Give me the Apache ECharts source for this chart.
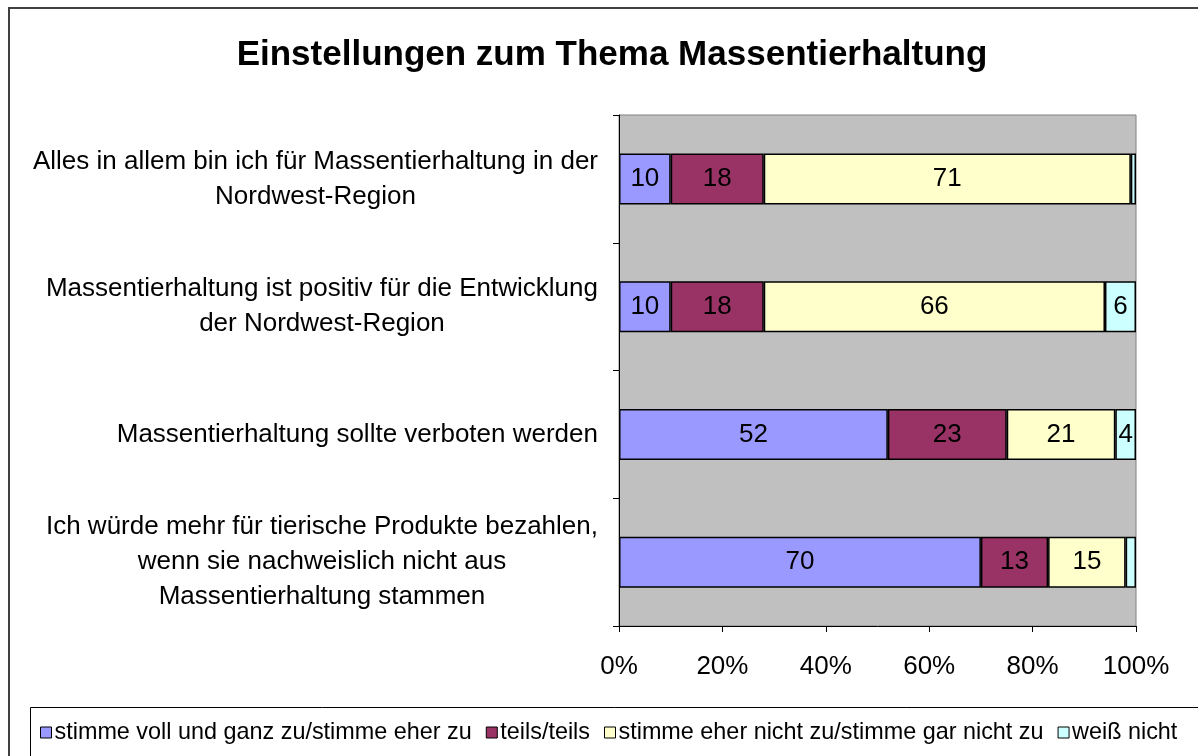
<!DOCTYPE html>
<html>
<head>
<meta charset="utf-8">
<script src="https://cdn.jsdelivr.net/npm/echarts@6/dist/echarts.min.js"></script>
<style>
html, body { margin: 0; padding: 0; background: #fff; }
#chart { width: 1198px; height: 756px; }
</style>
</head>
<body>
<div id="chart"></div>
<script>
var categories = [
    'Alles in allem bin ich für Massentierhaltung in der\nNordwest-Region',
    'Massentierhaltung ist positiv für die Entwicklung\nder Nordwest-Region',
    'Massentierhaltung sollte verboten werden',
    'Ich würde mehr für tierische Produkte bezahlen,\nwenn sie nachweislich nicht aus\nMassentierhaltung stammen'
];
var seriesNames = [
    'stimme voll und ganz zu/stimme eher zu',
    'teils/teils',
    'stimme eher nicht zu/stimme gar nicht zu',
    'weiß nicht'
];
var zustimmung = [10, 10, 52, 70];
var teils = [18, 18, 23, 13];
var ablehnung = [71, 66, 21, 15];
var weissNicht = [1, 6, 4, 2];
var colors = ['#9999FF', '#993366', '#FFFFCC', '#CCFFFF'];

var FONT = '"Liberation Sans", Arial, sans-serif';

var makeSeries = function(name, data, color)
{
    return {
        name: name,
        type: 'bar',
        stack: 'Total',
        barWidth: 51,
        data: data,
        itemStyle: {
            color: color,
            borderColor: '#000',
            borderWidth: 1.5
        },
        label: {
            show: true,
            position: 'inside',
            color: '#000',
            fontSize: 26,
            fontFamily: FONT,
            formatter: function(p) {
                return p.value >= 3 ? p.value : '';
            }
        }
    };
};

var myChart = echarts.init(document.getElementById('chart'), null, {
    renderer: 'canvas'
});

var option = {
    animation: false,
    backgroundColor: '#fff',
    textStyle: { fontFamily: FONT },
    title: {
        text: 'Einstellungen zum Thema Massentierhaltung',
        left: 607,
        textAlign: 'center',
        top: 33,
        textStyle: {
            fontSize: 35,
            fontWeight: 'bold',
            color: '#000',
            fontFamily: FONT
        }
    },
    graphic: [{
        type: 'rect',
        z: -1,
        shape: { x: 9, y: 8, width: 1220, height: 780 },
        style: { fill: '#fff', stroke: '#404040', lineWidth: 2 }
    }, {
        type: 'rect',
        z: 0,
        shape: { x: 30.5, y: 707.5, width: 1200, height: 60 },
        style: { fill: '#fff', stroke: '#000', lineWidth: 1 }
    }],
    legend: {
        data: seriesNames,
        left: 35,
        top: 716,
        icon: 'rect',
        itemWidth: 11,
        itemHeight: 11,
        itemGap: 14,
        textStyle: {
            fontSize: 23.4,
            color: '#000',
            fontFamily: FONT,
            padding: [0, 0, 0, -2]
        },
        itemStyle: { borderColor: '#000', borderWidth: 1 }
    },
    grid: {
        left: 619,
        top: 115,
        right: 62,
        bottom: 130,
        show: true,
        backgroundColor: '#C0C0C0',
        borderColor: '#808080',
        borderWidth: 1
    },
    xAxis: {
        type: 'value',
        min: 0,
        max: 100,
        interval: 20,
        splitLine: { show: false },
        axisLine: { show: true, lineStyle: { color: '#000', width: 1 } },
        axisTick: { show: true, length: 6, lineStyle: { color: '#000' } },
        axisLabel: {
            formatter: '{value}%',
            color: '#000',
            fontSize: 26,
            margin: 28,
            fontFamily: FONT
        }
    },
    yAxis: {
        type: 'category',
        inverse: true,
        data: categories,
        axisLine: { show: true, lineStyle: { color: '#000', width: 1 } },
        axisTick: { show: true, length: 6, lineStyle: { color: '#000' } },
        axisLabel: {
            margin: 21,
            color: '#000',
            fontSize: 26,
            lineHeight: 35,
            fontFamily: FONT,
            formatter: function(value) {
                return value.split('\n').map(function(line) {
                    return '{c|' + line + '}';
                }).join('\n');
            },
            rich: {
                c: {
                    align: 'center',
                    fontSize: 26,
                    lineHeight: 35,
                    color: '#000',
                    fontFamily: FONT
                }
            }
        }
    },
    series: [
        makeSeries(seriesNames[0], zustimmung, colors[0]),
        makeSeries(seriesNames[1], teils, colors[1]),
        makeSeries(seriesNames[2], ablehnung, colors[2]),
        makeSeries(seriesNames[3], weissNicht, colors[3])
    ]
};

if (option && typeof option === 'object') {
    myChart.setOption(option);
}

window.addEventListener('resize', myChart.resize);
</script>
</body>
</html>
